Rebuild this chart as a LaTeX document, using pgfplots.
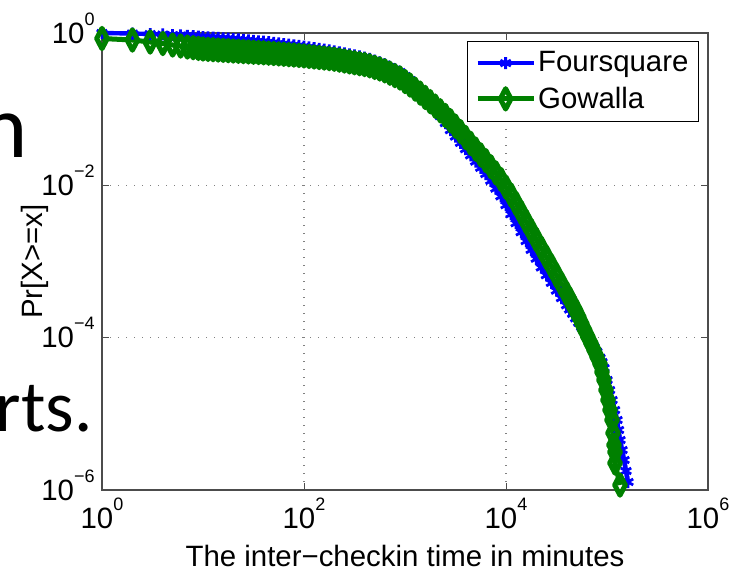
\documentclass[border=0pt]{standalone}
\usepackage{pgfplots}
\pgfplotsset{compat=1.18}
\usepackage{pgfplotstable}
\usepackage{fontspec}
\setmainfont{Liberation Sans}
\newfontfamily\slidefont{Carlito}
\definecolor{fsblue}{rgb}{0,0,1}
\definecolor{gwgreen}{rgb}{0,0.5,0}
\newcommand\ex[1]{10\raisebox{9bp}[0pt][0pt]{\fontsize{9bp}{9bp}\selectfont #1}}
\newcommand\chartfont{\fontsize{14.7bp}{17bp}\selectfont}

% CCDF of inter-checkin time
\pgfplotstableread{
x y
1 1
2 0.985
3 0.970
4 0.956
5 0.941
6 0.930
7 0.919
8 0.908
9 0.897
10 0.886
11.22 0.877
12.59 0.868
14.13 0.860
15.85 0.851
17.78 0.842
19.95 0.833
22.39 0.822
25.12 0.811
28.18 0.800
31.62 0.790
35.48 0.779
39.81 0.769
44.67 0.757
50.12 0.743
56.23 0.730
63.10 0.716
70.79 0.703
79.43 0.690
89.13 0.678
100 0.663
112.2 0.648
125.9 0.633
141.3 0.618
158.5 0.604
177.8 0.590
199.5 0.5755
223.9 0.5578
251.2 0.5404
281.8 0.5238
316.2 0.5075
354.8 0.4918
398.1 0.4766
446.7 0.4569
501.2 0.4335
562.3 0.4114
631.0 0.3870
707.9 0.3585
794.3 0.3322
891.3 0.3078
1000 0.2725
1122 0.2411
1259 0.2070
1413 0.1773
1585 0.1432
1778 0.1158
1995 0.0967
2239 0.0808
2512 0.0655
2818 0.0529
3162 0.04358
3548 0.03601
3981 0.02980
4467 0.02470
5012 0.02047
5623 0.01697
6310 0.01406
7079 0.01145
7943 0.009058
8913 0.007161
10000 0.005490
11220 0.004180
12590 0.003180
14130 0.002420
15850 0.001853
17780 0.001418
19950 0.001086
22390 0.000834
25120 0.000660
28180 0.000523
31620 0.000414
35480 0.000330
39810 0.000266
42660 0.000234
45710 0.000205
48980 0.000179
52480 0.000157
56230 0.0001368
60260 0.0001194
64570 0.0001039
69180 8.91e-5
74130 7.61e-5
79430 6.52e-5
85110 5.44e-5
89130 4.79e-5
93330 4.00e-5
100000 2.781e-5
105900 2.055e-5
112100 1.519e-5
118700 1.123e-5
125600 8.30e-6
130000 6.14e-6
134500 4.534e-6
140800 3.351e-6
147400 2.477e-6
154200 1.777e-6
161400 1.274e-6
}\foursquare

\pgfplotstableread{
x y
1 0.847
2 0.809
3 0.762
4 0.728
5 0.696
6 0.675
7 0.655
8 0.641
9 0.628
10 0.617
11.22 0.6103
12.59 0.6041
14.13 0.5981
15.85 0.5919
17.78 0.5861
19.95 0.5800
22.39 0.5750
25.12 0.5699
28.18 0.5646
31.62 0.5595
35.48 0.5546
39.81 0.5495
44.67 0.5441
50.12 0.5378
56.23 0.5317
63.10 0.5256
70.79 0.5195
79.43 0.5136
89.13 0.5077
100 0.5002
112.2 0.4921
125.9 0.4842
141.3 0.4763
158.5 0.4688
177.8 0.4613
199.5 0.4525
223.9 0.4405
251.2 0.4288
281.8 0.4175
316.2 0.4064
354.8 0.3956
398.1 0.3849
446.7 0.3707
501.2 0.3533
562.3 0.3370
631.0 0.3185
707.9 0.2964
794.3 0.2758
891.3 0.2567
1000 0.2308
1122 0.2074
1259 0.1835
1413 0.1624
1585 0.1428
1778 0.1254
1995 0.1096
2239 0.0951
2512 0.08255
2818 0.07052
3162 0.05984
3548 0.05071
3981 0.04251
4467 0.03564
5012 0.02991
5623 0.02512
6310 0.02110
7079 0.01754
7943 0.01455
8913 0.01194
10000 0.009443
11220 0.007466
12590 0.005766
14130 0.004387
15850 0.003339
17780 0.002541
19950 0.001943
22390 0.001488
25120 0.001139
28180 0.0008718
31620 0.0006618
35480 0.0005017
39810 0.0003806
42660 0.0003219
45710 0.0002692
48980 0.0002274
52480 0.0001885
56230 0.0001535
60260 0.0001253
64570 0.0001030
69180 8.487e-5
74130 6.949e-5
79430 5.641e-5
85110 4.538e-5
89130 3.542e-5
93330 2.781e-5
97720 2.055e-5
102300 1.519e-5
107100 1.123e-5
112100 8.30e-6
114700 5.60e-6
117300 3.90e-6
120000 3.155e-6
120000 2.262e-6
134500 1.163e-6
}\gowalla

\begin{document}
\begin{tikzpicture}
\useasboundingbox (0,0) rectangle (370bp,-285.5bp);
% bits of the slide text behind the figure
\node[anchor=base east, inner sep=0pt, font=\slidefont\fontsize{45bp}{50bp}\selectfont] at (14bp,-78.5bp) {n};
\node[anchor=base east, inner sep=0pt, font=\slidefont\fontsize{36.5bp}{40bp}\selectfont] at (46.5bp,-215.5bp) {rts.};
\begin{axis}[
  at={(51bp,-245bp)}, anchor=south west,
  scale only axis, width=303bp, height=228.5bp,
  xmode=log, ymode=log,
  xmin=1, xmax=1e6, ymin=1e-6, ymax=1,
  xtick={1,100,10000,1000000},
  xticklabels={\ex{0},\ex{2},\ex{4},\ex{6}},
  ytick={1e-6,1e-4,1e-2,1},
  yticklabels={\ex{−6},\ex{−4},\ex{−2},\ex{0}},
  xminorticks=false, yminorticks=false,
  tick align=inside, major tick length=3.5bp,
  tick style={black!70, line width=0.5bp},
  axis line style={black!70, line width=0.6bp},
  grid=major,
  major grid style={gray, line width=0.6bp, dash pattern=on 0.6bp off 3.4bp},
  tick label style={font=\chartfont},
  xticklabel style={inner sep=0pt, yshift=-9bp},
  yticklabel style={inner sep=0pt, xshift=-3.5bp},
  label style={font=\chartfont},
  xlabel={The inter−checkin time in minutes},
  ylabel={Pr[X>=x]},
  xlabel style={at={(axis description cs:0.5,-0.145)}, anchor=center},
  ylabel style={at={(axis description cs:-0.1106,0.5)}, anchor=center},
  clip=false,
  legend cell align=left,
  legend style={at={(0.9851,0.9825)}, anchor=north east, draw=black,
    line width=0.5bp, inner xsep=4bp, inner ysep=4bp, row sep=4bp,
    font=\chartfont, nodes={inner sep=1bp}},
  legend image code/.code={\draw[mark repeat=2,mark phase=2,#1] plot coordinates {(0bp,0bp) (14bp,0bp) (28bp,0bp)};},
]
\addplot[fsblue, line width=2.2bp, line join=round, mark=asterisk, mark size=3bp,
  mark options={solid, line width=1.4bp}] table {\foursquare};
\addlegendentry{Foursquare}
\addplot[gwgreen, line width=2.5bp, line join=round, mark=diamond, mark size=5.1bp,
  mark options={solid, line width=2.5bp, xscale=0.7}] table {\gowalla};
\addlegendentry{Gowalla}
\end{axis}
\end{tikzpicture}
\end{document}
